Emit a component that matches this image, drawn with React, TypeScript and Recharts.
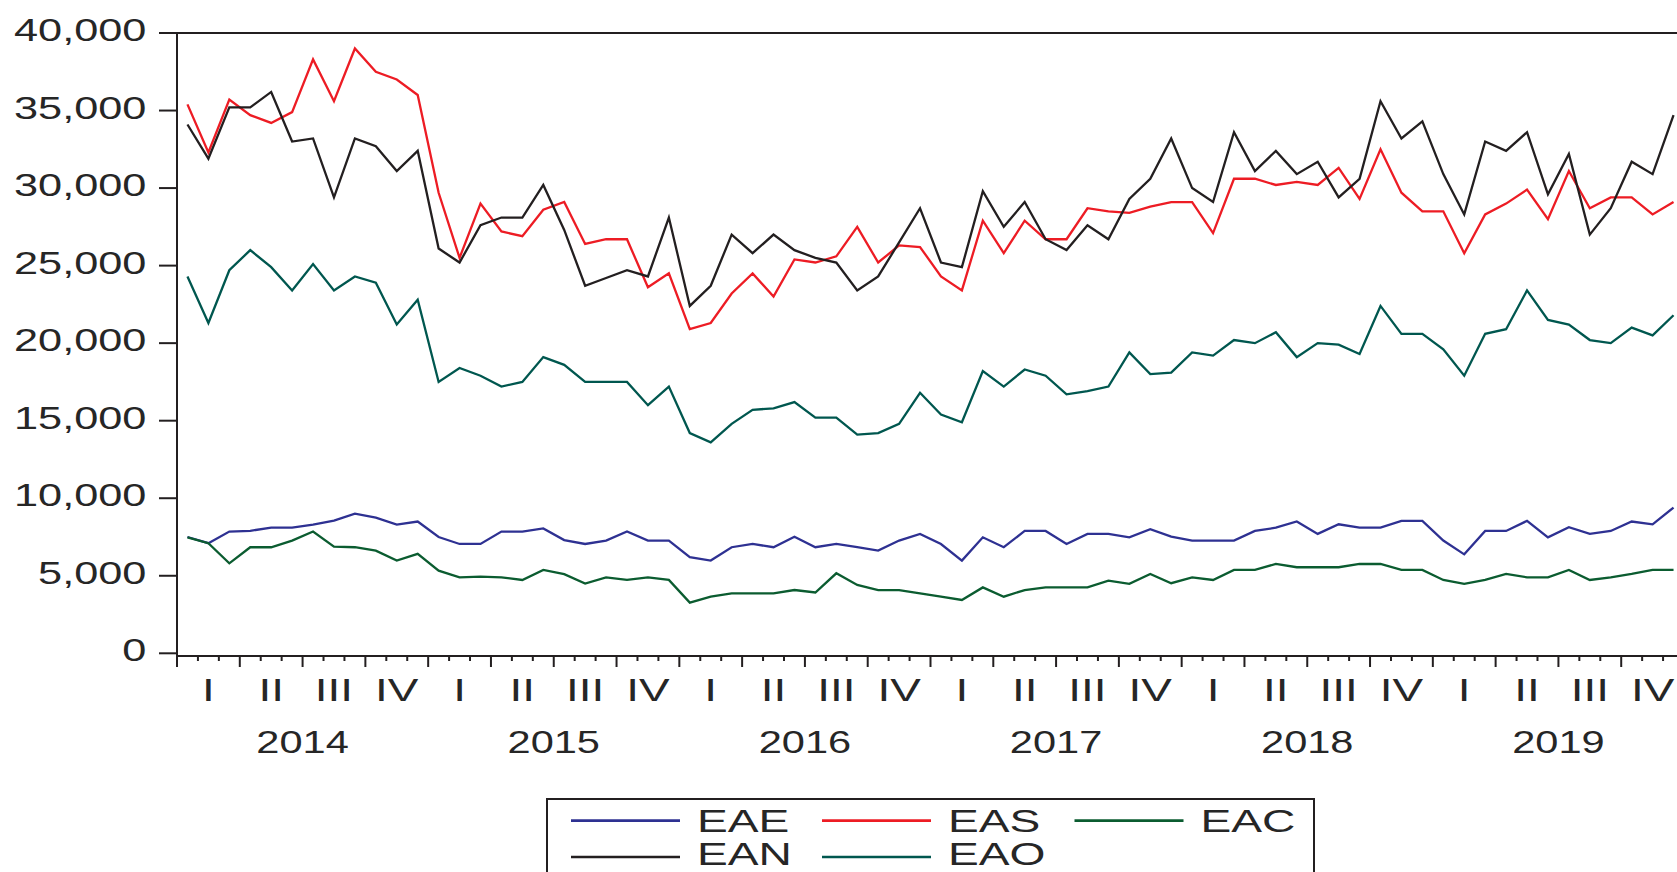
import React from 'react';
import { LineChart, Line, XAxis, YAxis, ReferenceLine, Legend } from 'recharts';

// Monthly employment series, Jan 2014 – Dec 2019
const years = ['2014', '2015', '2016', '2017', '2018', '2019'];
const quarters = ['I', 'II', 'III', 'IV'];
const yTicks = [0, 5000, 10000, 15000, 20000, 25000, 30000, 35000, 40000];

const eae = [
  7500, 7100, 7850, 7900, 8100, 8100, 8300, 8550, 9000, 8750, 8300, 8500,
  7500, 7050, 7050, 7850, 7850, 8050, 7300, 7050, 7270, 7850, 7270, 7270,
  6200, 5980, 6840, 7050, 6840, 7520, 6840, 7050, 6840, 6620, 7270, 7700,
  7050, 5980, 7480, 6840, 7890, 7890, 7050, 7700, 7700, 7480, 8000, 7520,
  7270, 7270, 7270, 7890, 8100, 8500, 7700, 8320, 8100, 8100, 8540, 8540,
  7270, 6380, 7890, 7890, 8540, 7480, 8130, 7700, 7890, 8500, 8320, 9400,
];
const eas = [
  35400, 32300, 35700, 34700, 34200, 34900, 38300, 35600, 39000, 37500, 37000, 36000,
  29700, 25500, 29000, 27200, 26900, 28600, 29100, 26400, 26700, 26700, 23600, 24500,
  20900, 21300, 23200, 24500, 23000, 25400, 25200, 25600, 27500, 25200, 26300, 26200,
  24300, 23400, 27900, 25800, 27900, 26700, 26700, 28700, 28500, 28400, 28800, 29100,
  29100, 27100, 30600, 30600, 30200, 30400, 30200, 31300, 29300, 32500, 29700, 28500,
  28500, 25800, 28300, 29000, 29900, 28000, 31100, 28700, 29400, 29400, 28300, 29100,
];
const eac = [
  7480, 7100, 5800, 6840, 6840, 7270, 7850, 6880, 6840, 6620, 5980, 6410,
  5330, 4900, 4950, 4900, 4730, 5380, 5100, 4500, 4900, 4730, 4900, 4730,
  3270, 3650, 3870, 3870, 3870, 4080, 3920, 5160, 4410, 4080, 4080, 3870,
  3650, 3440, 4250, 3650, 4080, 4250, 4250, 4250, 4690, 4480, 5120, 4520,
  4900, 4730, 5380, 5380, 5760, 5550, 5550, 5550, 5760, 5760, 5380, 5380,
  4730, 4480, 4730, 5120, 4900, 4900, 5380, 4730, 4900, 5120, 5380, 5380,
];
const ean = [
  34100, 31900, 35200, 35200, 36200, 33000, 33200, 29400, 33200, 32700, 31100, 32400,
  26100, 25200, 27600, 28100, 28100, 30200, 27300, 23700, 24200, 24700, 24300, 28100,
  22400, 23700, 27000, 25800, 27000, 26000, 25500, 25200, 23400, 24300, 26500, 28700,
  25200, 24900, 29800, 27500, 29100, 26700, 26000, 27600, 26700, 29300, 30600, 33200,
  30000, 29100, 33600, 31100, 32400, 30900, 31700, 29400, 30600, 35600, 33200, 34300,
  30900, 28300, 33000, 32400, 33600, 29600, 32200, 27000, 28700, 31700, 30900, 34700,
];
const eao = [
  24300, 21300, 24700, 26000, 24900, 23400, 25100, 23400, 24300, 23900, 21200, 22800,
  17500, 18400, 17900, 17200, 17500, 19100, 18600, 17500, 17500, 17500, 16000, 17200,
  14200, 13600, 14800, 15700, 15800, 16200, 15200, 15200, 14100, 14200, 14800, 16800,
  15400, 14900, 18200, 17200, 18300, 17900, 16700, 16900, 17200, 19400, 18000, 18100,
  19400, 19200, 20200, 20000, 20700, 19100, 20000, 19900, 19300, 22400, 20600, 20600,
  19600, 17900, 20600, 20900, 23400, 21500, 21200, 20200, 20000, 21000, 20500, 21800,
];

const series = [
  { key: 'EAE', color: '#2e3192', values: eae },
  { key: 'EAS', color: '#ed1c24', values: eas },
  { key: 'EAC', color: '#0b5c30', values: eac },
  { key: 'EAN', color: '#231f20', values: ean },
  { key: 'EAO', color: '#00574f', values: eao },
];

// each month sits in the middle of its slot on the time axis
const data = eae.map((_, i) => {
  const row: Record<string, number> = { t: i + 0.5 };
  series.forEach((s) => {
    row[s.key] = s.values[i];
  });
  return row;
});

const monthEdges = Array.from({ length: 73 }, (_, i) => i);
const quarterMids = Array.from({ length: 24 }, (_, q) => q * 3 + 1.5);
const xTicks = [...monthEdges, ...quarterMids].sort((a, b) => a - b);

const FONT = '"Liberation Sans", Arial, Helvetica, sans-serif';
const INK = '#231f20';
const TEXT = '#262626';

const XTick = (props: any) => {
  const { x, y, payload } = props;
  const v: number = payload.value;
  if (Number.isInteger(v)) {
    const major = v % 3 === 0;
    return (
      <g>
        <line x1={x} x2={x} y1={y} y2={y + (major ? 11 : 5)} stroke={INK} strokeWidth={2} />
        {v % 12 === 6 && (
          <text
            transform={`translate(${x},${y + 97.3}) scale(1.32,1)`}
            textAnchor="middle"
            fontFamily={FONT}
            fontSize={31.5}
            fill={TEXT}
          >
            {years[(v - 6) / 12]}
          </text>
        )}
      </g>
    );
  }
  const q = Math.floor(v / 3) % 4;
  return (
    <text
      transform={`translate(${x},${y + 44.7}) scale(1.48,1)`}
      textAnchor="middle"
      fontFamily={FONT}
      fontSize={31}
      fill={TEXT}
    >
      {quarters[q]}
    </text>
  );
};

const YTick = (props: any) => {
  const { x, y, payload } = props;
  return (
    <g>
      <line x1={x} x2={x - 18} y1={y} y2={y} stroke={INK} strokeWidth={2} />
      <text
        transform={`translate(146.4,${y + 8}) scale(1.42,1)`}
        textAnchor="end"
        fontFamily={FONT}
        fontSize={30.5}
        fill={TEXT}
      >
        {Number(payload.value).toLocaleString('en-US')}
      </text>
    </g>
  );
};

const lineRows = [22.7, 59];
const textRows = [34, 67.4];
const colStart = [25, 276, 528.5];

const LegendBox = () => (
  <svg width={770} height={80} style={{ display: 'block' }}>
    <rect x={1} y={1} width={767} height={100} fill="#fff" stroke={INK} strokeWidth={2} />
    {series.map((s, idx) => {
      const col = idx % 3;
      const row = Math.floor(idx / 3);
      const lx = colStart[col];
      return (
        <g key={s.key}>
          <line x1={lx} x2={lx + 109} y1={lineRows[row]} y2={lineRows[row]} stroke={s.color} strokeWidth={2.7} />
          <text
            transform={`translate(${lx + 126},${textRows[row]}) scale(1.49,1)`}
            fontFamily={FONT}
            fontSize={31}
            fill={TEXT}
          >
            {s.key}
          </text>
        </g>
      );
    })}
  </svg>
);

export default function App() {
  return (
    <div
      style={{
        position: 'absolute',
        left: 0,
        top: 0,
        width: 1677,
        height: 872,
        overflow: 'hidden',
        background: '#fff',
      }}
    >
      <LineChart width={1700} height={872} data={data} margin={{ top: 33, right: 16, bottom: 0, left: 0 }}>
        <XAxis
          dataKey="t"
          type="number"
          domain={[0, 72]}
          allowDataOverflow
          ticks={xTicks}
          interval={0}
          tickSize={0}
          tickMargin={0}
          tickLine={false}
          axisLine={{ stroke: INK, strokeWidth: 2 }}
          tick={<XTick />}
          height={216}
        />
        <YAxis
          type="number"
          domain={[-174, 40000]}
          allowDataOverflow
          ticks={yTicks}
          interval={0}
          tickSize={0}
          tickMargin={0}
          tickLine={false}
          axisLine={{ stroke: INK, strokeWidth: 2 }}
          tick={<YTick />}
          width={177}
        />
        <ReferenceLine y={40000} stroke={INK} strokeWidth={2} />
        {series.map((s) => (
          <Line
            key={s.key}
            type="linear"
            dataKey={s.key}
            stroke={s.color}
            strokeWidth={2.3}
            dot={false}
            activeDot={false}
            isAnimationActive={false}
          />
        ))}
        <Legend
          layout="vertical"
          align="center"
          verticalAlign="middle"
          wrapperStyle={{ left: 546, top: 798, width: 770, height: 80 }}
          content={() => <LegendBox />}
        />
      </LineChart>
    </div>
  );
}
